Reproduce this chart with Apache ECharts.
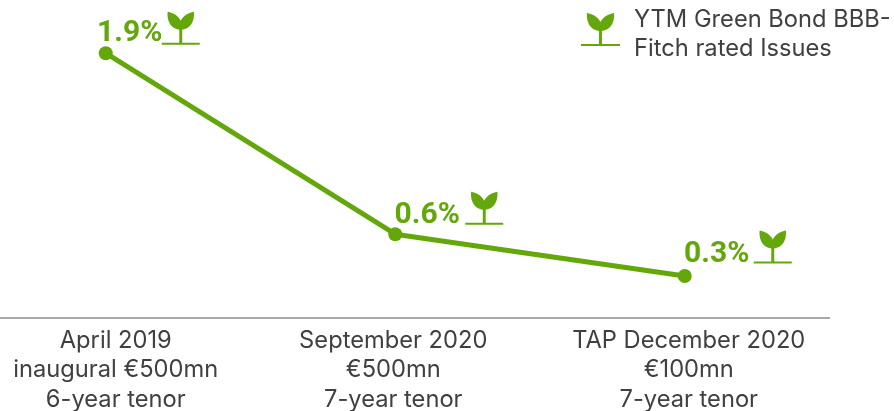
<!DOCTYPE html>
<html><head><meta charset="utf-8">
<style>html,body{margin:0;padding:0;background:#fff}#c{width:894px;height:411px}</style>
<script src="https://cdn.jsdelivr.net/npm/echarts@6/dist/echarts.min.js"></script></head>
<body><div id="c"></div>
<script>
const categories = ['April 2019\ninaugural €500mn\n6-year tenor','September 2020\n€500mn\n7-year tenor','TAP December 2020\n€100mn\n7-year tenor'];
const ytmValues = [1.9, 0.6, 0.3];
const valueLabels = ['1.9%','0.6%','0.3%'];
const legendName = 'YTM Green Bond BBB-\nFitch rated Issues';
const green = '#64a70b';
const sproutShape = 'M6 0C12 1 17 4 19.5 9C22 4 27 1 33 0C34 10 29 17 21 18V31H39V33H0V31H18V18C10 17 5 10 6 0Z';
const sprout = 'path://' + sproutShape;
const legendIcon = 'path://' + sproutShape + 'M0 42L0 42Z';
const labelOffsets = [[24,-20],[32,-19],[32,-21]];
const iconOffsets = [[75,-25],[89,-26],[88,-29]];
const shifts = [20,-4,8];
const chart = echarts.init(document.getElementById('c'), null, {renderer:'canvas'});
chart.setOption({
  animation:false,
  textStyle:{fontFamily:'Inter'},
  grid:{left:-39,width:868.5,top:39.3,height:278.4,outerBoundsMode:'none'},
  legend:{left:581,top:5,padding:0,itemWidth:39,itemHeight:43,selectedMode:false,outerBoundsMode:'none',
    data:[{name:legendName,icon:legendIcon,itemStyle:{opacity:1}}],
    textStyle:{fontFamily:'Inter',fontSize:23.7,lineHeight:29,color:'#404040',padding:[0,0,0,9]}},
  xAxis:{type:'category',data:categories,
    axisLine:{lineStyle:{color:'#8c8c8c',width:1.5}},axisTick:{show:false},
    axisLabel:{margin:8,interval:0,fontFamily:'Inter',fontSize:23.7,lineHeight:29.5,color:'#404040',align:'center',
      formatter:(v)=>{const i=categories.indexOf(v);return v.split('\n').map(s=>`{t${i}|${s}}`).join('\n');},
      rich:Object.fromEntries(shifts.map((s,i)=>[`t${i}`,{fontFamily:'Inter',fontSize:23.7,lineHeight:29.5,color:'#404040',
        padding:s>0?[0,0,0,s]:[0,-s,0,0]}]))}},
  yAxis:{type:'value',min:0,max:2,show:false},
  series:[
    {type:'line',name:'YTM',data:ytmValues.map((v,i)=>({value:v,
        label:{show:true,position:'inside',offset:labelOffsets[i],formatter:valueLabels[i]}})),
      lineStyle:{color:green,width:5},itemStyle:{color:green},symbol:'circle',symbolSize:14,showSymbol:true,
      label:{fontFamily:'Roboto',fontSize:30,fontWeight:'bold',color:green}},
    {type:'scatter',name:legendName,symbol:sprout,symbolSize:[38,33],symbolKeepAspect:false,
      data:ytmValues.map((v,i)=>({value:v,symbolOffset:iconOffsets[i]})),itemStyle:{color:green,opacity:1}}
  ]
});
</script></body></html>
